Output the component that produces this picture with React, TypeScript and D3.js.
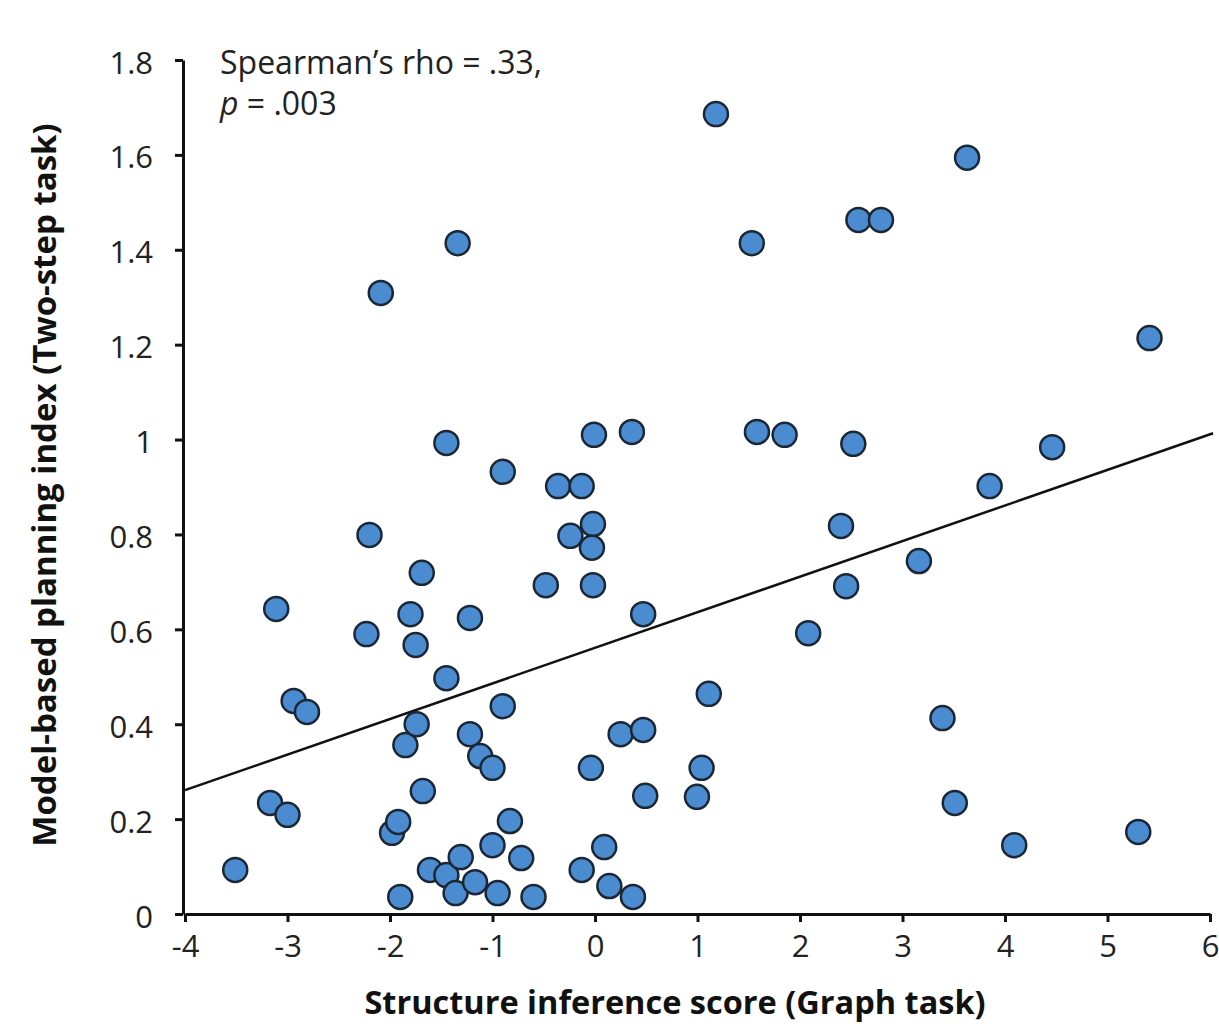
import React, { useEffect, useRef } from "react";
import * as d3 from "d3";

// structure inference score (Graph task)
const xValues = [
  -3.51, -3.11, -3.17, -3.0, -2.94, -2.81, -2.23, -2.2, -2.09, -1.98, -1.92, -1.9,
  -1.85, -1.8, -1.75, -1.74, -1.69, -1.68, -1.61, -1.45, -1.45, -1.45, -1.36, -1.34,
  -1.31, -1.22, -1.22, -1.17, -1.12, -1.0, -1.0, -0.95, -0.9, -0.9, -0.83, -0.72,
  -0.6, -0.48, -0.36, -0.24, -0.13, -0.13, -0.04, -0.02, -0.03, -0.02, -0.01, 0.09,
  0.14, 0.25, 0.36, 0.37, 0.47, 0.47, 0.49, 0.995, 1.04, 1.11, 1.18, 1.53, 1.58,
  1.85, 2.08, 2.4, 2.45, 2.52, 2.57, 2.79, 3.16, 3.39, 3.51, 3.63, 3.85, 4.09, 4.46,
  5.3, 5.41,
];

// model-based planning index (Two-step task)
const yValues = [
  0.093, 0.643, 0.234, 0.209, 0.449, 0.426, 0.59, 0.799, 1.309, 0.171, 0.194, 0.036,
  0.356, 0.632, 0.567, 0.4, 0.719, 0.259, 0.093, 0.497, 0.082, 0.993, 0.044, 1.414,
  0.12, 0.624, 0.379, 0.067, 0.333, 0.308, 0.145, 0.044, 0.932, 0.438, 0.196, 0.118,
  0.036, 0.693, 0.902, 0.797, 0.093, 0.902, 0.308, 0.822, 0.772, 0.693, 1.01, 0.141,
  0.059, 0.379, 1.016, 0.036, 0.632, 0.388, 0.249, 0.247, 0.308, 0.464, 1.686, 1.414,
  1.016, 1.01, 0.592, 0.818, 0.691, 0.991, 1.463, 1.463, 0.744, 0.413, 0.234, 1.594,
  0.902, 0.145, 0.984, 0.173, 1.214,
];

const xTicks = [-4, -3, -2, -1, 0, 1, 2, 3, 4, 5, 6];
const yTicks = [0, 0.2, 0.4, 0.6, 0.8, 1, 1.2, 1.4, 1.6, 1.8];

// fitted line
const fitX = [-4, 6.03];
const fitIntercept = 0.561;
const fitSlope = 0.075;

const App = () => {
  const svgRef = useRef(null);

  useEffect(() => {
    const width = 1219;
    const height = 1024;
    const margin = { top: 60, right: 9, bottom: 110, left: 185 };
    const font = "'Open Sans', 'DejaVu Sans', sans-serif";

    const svg = d3
      .select(svgRef.current)
      .attr("width", width)
      .attr("height", height)
      .style("background", "#fff");

    svg.selectAll("*").remove();

    const xScale = d3
      .scaleLinear()
      .domain([-4, 6])
      .range([margin.left, width - margin.right]);

    const yScale = d3
      .scaleLinear()
      .domain([0, 1.8])
      .range([height - margin.bottom, margin.top]);

    // x axis
    const xAxis = svg
      .append("g")
      .attr("transform", `translate(0,${height - margin.bottom})`)
      .call(
        d3
          .axisBottom(xScale)
          .tickValues(xTicks)
          .tickSize(8)
          .tickSizeOuter(0)
          .tickPadding(13)
          .tickFormat((d) => String(d))
      );
    xAxis.select(".domain").attr("stroke", "#111").attr("stroke-width", 3);
    xAxis.selectAll(".tick line").attr("stroke", "#111").attr("stroke-width", 3);
    xAxis
      .selectAll("text")
      .attr("fill", "#222")
      .style("font-family", font)
      .style("font-size", "31px");

    // y axis
    const yAxis = svg
      .append("g")
      .attr("transform", `translate(${margin.left - 2},0)`)
      .call(
        d3
          .axisLeft(yScale)
          .tickValues(yTicks)
          .tickSize(8)
          .tickSizeOuter(0)
          .tickPadding(22)
          .tickFormat((d) => (d === 0 || d === 1 ? String(d) : d3.format(".1f")(d)))
      );
    yAxis.select(".domain").attr("stroke", "#111").attr("stroke-width", 3);
    yAxis.selectAll(".tick line").attr("stroke", "#111").attr("stroke-width", 3);
    yAxis
      .selectAll("text")
      .attr("fill", "#222")
      .attr("dy", "0.42em")
      .style("font-family", font)
      .style("font-size", "31px");

    // regression line
    const line = d3
      .line()
      .x((d) => xScale(d))
      .y((d) => yScale(fitIntercept + fitSlope * d));

    svg
      .append("path")
      .datum(fitX)
      .attr("fill", "none")
      .attr("stroke", "#111")
      .attr("stroke-width", 2.5)
      .attr("d", line);

    // points
    svg
      .selectAll(".dot")
      .data(xValues.map((x, i) => ({ x, y: yValues[i] })))
      .enter()
      .append("circle")
      .attr("class", "dot")
      .attr("cx", (d) => xScale(d.x))
      .attr("cy", (d) => yScale(d.y))
      .attr("r", 12)
      .attr("fill", "#4a8ccf")
      .attr("stroke", "#1c2735")
      .attr("stroke-width", 2.5);

    // stats text
    const stats = svg
      .append("text")
      .attr("x", 220)
      .attr("y", 74)
      .attr("fill", "#222")
      .style("font-family", font)
      .style("font-size", "32px");
    stats.append("tspan").text("Spearman’s rho = .33,");
    const pLine = svg
      .append("text")
      .attr("x", 220)
      .attr("y", 115)
      .attr("fill", "#222")
      .style("font-family", font)
      .style("font-size", "32px");
    pLine.append("tspan").style("font-style", "italic").text("p");
    pLine.append("tspan").text(" = .003");

    // axis titles
    svg
      .append("text")
      .attr("x", 675)
      .attr("y", 1014)
      .attr("text-anchor", "middle")
      .attr("fill", "#111")
      .style("font-family", font)
      .style("font-size", "32.5px")
      .style("font-weight", "bold")
      .text("Structure inference score (Graph task)");

    svg
      .append("text")
      .attr("transform", `translate(56,485) rotate(-90)`)
      .attr("text-anchor", "middle")
      .attr("fill", "#111")
      .style("font-family", font)
      .style("font-size", "33px")
      .style("font-weight", "bold")
      .text("Model-based planning index (Two-step task)");
  }, []);

  return (
    <div style={{ position: "absolute", left: 0, top: 0 }}>
      <svg ref={svgRef}></svg>
    </div>
  );
};

export default App;
